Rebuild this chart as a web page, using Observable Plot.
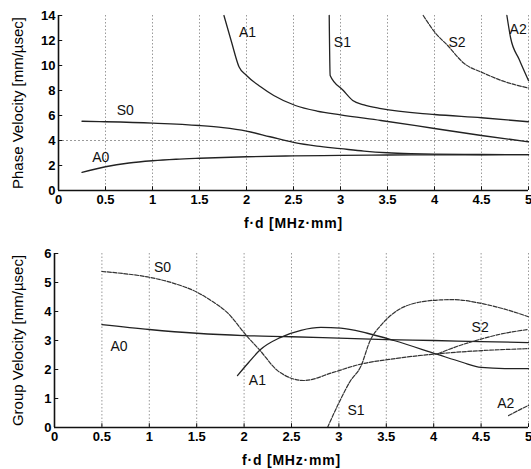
<!DOCTYPE html>
<html>
<head>
<meta charset="utf-8">
<script src="https://cdn.jsdelivr.net/npm/d3@7"></script>
<script src="https://cdn.jsdelivr.net/npm/@observablehq/plot@0.6"></script>
<style>
  body { margin: 0; background: #fff; }
  #chart { width: 531px; }
  svg { display: block; }
</style>
</head>
<body>
<div id="chart"></div>
<script>
// ---- tick values ----
const xTicks = [0, 0.5, 1, 1.5, 2, 2.5, 3, 3.5, 4, 4.5, 5];
const phaseTicks = [0, 2, 4, 6, 8, 10, 12, 14];
const groupTicks = [0, 1, 2, 3, 4, 5, 6];

// ---- phase velocity curves [f·d, v] ----
const phaseA0 = [[0.25,1.45],[0.5,1.9],[0.75,2.2],[1,2.38],[1.25,2.5],[1.5,2.58],[2,2.7],[2.5,2.77],[3,2.81],[3.5,2.84],[4,2.85],[4.5,2.86],[5,2.87]];
const phaseS0 = [[0.25,5.54],[0.5,5.5],[1,5.39],[1.5,5.2],[1.75,5.03],[2,4.75],[2.25,4.3],[2.5,3.85],[2.75,3.55],[3,3.35],[3.25,3.15],[3.5,3.02],[3.75,2.95],[4,2.91],[4.5,2.88],[5,2.87]];
const phaseA1 = [[1.76,14],[1.84,11.9],[1.92,9.9],[2.0,9.2],[2.15,8.3],[2.29,7.6],[2.52,6.8],[2.75,6.35],[3,6.05],[3.43,5.6],[4,4.96],[4.5,4.4],[5,3.9]];
const phaseS1 = [[2.88,14],[2.89,9.2],[3.03,8.0],[3.13,7.2],[3.25,6.85],[3.43,6.55],[4,6.08],[4.5,5.82],[5,5.5]];
const phaseS2 = [[3.88,14],[4.01,12.6],[4.14,11.6],[4.31,10.2],[4.52,9.4],[4.75,8.7],[5,8.2]];
const phaseA2 = [[4.77,14],[4.81,12.2],[4.9,10.5],[5,8.8]];

// ---- group velocity curves [f·d, v] ----
const groupA0 = [[0.5,3.55],[1,3.38],[1.5,3.25],[2,3.17],[2.5,3.13],[3,3.08],[3.5,3.03],[4,3.0],[4.5,2.96],[5,2.93]];
const groupS0 = [[0.5,5.38],[0.75,5.3],[1,5.18],[1.25,4.98],[1.5,4.67],[1.65,4.38],[1.82,3.97],[2.03,3.15],[2.17,2.65],[2.35,1.97],[2.63,1.62],[2.94,1.9],[3.2,2.16],[3.6,2.38],[4.07,2.55],[4.5,2.65],[5,2.72]];
const groupA1 = [[1.93,1.79],[2.05,2.25],[2.17,2.68],[2.38,3.1],[2.6,3.35],[2.81,3.45],[3.02,3.43],[3.3,3.25],[3.58,3.0],[4.04,2.52],[4.3,2.25],[4.5,2.07],[4.75,2.03],[5,2.03]];
const groupS1 = [[2.88,0],[3.0,0.85],[3.12,1.6],[3.23,2.1],[3.33,3.0],[3.45,3.55],[3.58,3.95],[3.76,4.25],[4.07,4.4],[4.2,4.41],[4.5,4.28],[4.75,4.08],[5,3.82]];
const groupS2 = [[4.05,2.55],[4.25,2.8],[4.5,3.05],[4.75,3.25],[5,3.38]];
const groupA2 = [[4.79,0.41],[4.9,0.6],[5,0.76]];

// ---- curve labels [name, f·d, v] ----
const phaseLabels = [["A1",2.01,12.6],["S1",3.02,11.85],["S2",4.24,11.85],["A2",4.89,12.9],["S0",0.71,6.4],["A0",0.45,2.65]];
const groupLabels = [["S0",1.14,5.52],["A0",0.68,2.79],["A1",2.14,1.62],["S1",3.18,0.59],["S2",4.49,3.45],["A2",4.76,0.83]];

const xLabel = "f·d [MHz·mm]";
const font = "'Liberation Sans', Arial, Helvetica, sans-serif";

function toRows(curves) {
  const rows = [];
  for (const [name, pts, dash] of curves) {
    for (const [x, y] of pts) rows.push({name, x, y, dash});
  }
  return rows;
}

function makeChart({curves, labels, yTicks, yMax, yLabel, height, marginTop, marginLeft, gridY, tickLenY, tickLenX}) {
  const rows = toRows(curves);
  const lab = labels.map(([t, x, y]) => ({t, x, y}));
  const solid = rows.filter(d => !d.dash);
  const dashed = rows.filter(d => d.dash);
  const svg = Plot.plot({
    width: 531,
    height,
    marginTop,
    marginBottom: 42,
    marginLeft,
    marginRight: 3,
    style: {fontFamily: font, background: "#fff", overflow: "visible"},
    x: {domain: [0, 5]},
    y: {domain: [0, yMax]},
    marks: [
      Plot.ruleX(xTicks.filter(d => d > 0), {stroke: "#9a9a9a", strokeDasharray: "1.5,2", strokeWidth: 1}),
      Plot.ruleY(gridY, {stroke: "#9a9a9a", strokeDasharray: "2,2", strokeWidth: 1}),
      Plot.line(solid, {x: "x", y: "y", z: "name", stroke: "#222", strokeWidth: 1.3, curve: "monotone-x"}),
      Plot.line(dashed, {x: "x", y: "y", z: "name", stroke: "#333", strokeWidth: 1.2, strokeDasharray: "4,1.5", curve: "monotone-x"}),
      Plot.text(lab, {x: "x", y: "y", text: "t", fontSize: 14, fill: "#111"}),
      Plot.ruleX(xTicks, {x: d => d, y1: 0, y2: tickLenX, stroke: "#111", strokeWidth: 1}),
      Plot.ruleY(yTicks, {y: d => d, x1: 0, x2: tickLenY, stroke: "#111", strokeWidth: 1}),
      Plot.ruleX([0], {stroke: "#111", strokeWidth: 1.6}),
      Plot.ruleY([0], {stroke: "#111", strokeWidth: 1.6}),
      Plot.axisX({ticks: xTicks, tickSize: 0, tickPadding: 4, tickFormat: d => String(d), fontSize: 13, fontWeight: "bold",
        label: xLabel, labelAnchor: "center", labelOffset: 37, labelArrow: "none"}),
      Plot.axisY({ticks: yTicks, tickSize: 0, tickPadding: 3, tickFormat: d => String(d), fontSize: 13, fontWeight: "bold",
        label: yLabel, labelAnchor: "center", labelOffset: marginLeft - 12, labelArrow: "none"})
    ]
  });
  // enlarge the axis titles
  svg.querySelectorAll("text").forEach(t => {
    const s = t.textContent;
    if (s === xLabel) {
      t.setAttribute("font-size", "14");
      t.setAttribute("font-weight", "bold");
      t.setAttribute("letter-spacing", "0.8");
      t.style.fontSize = "14px";
    } else if (s === yLabel) {
      t.setAttribute("font-size", "15");
      t.setAttribute("font-weight", "normal");
      t.style.fontSize = "15px";
      t.style.fontWeight = "normal";
    }
  });
  return svg;
}

const topChart = makeChart({
  curves: [["A0", phaseA0, false], ["S0", phaseS0, false], ["A1", phaseA1, false], ["S1", phaseS1, false], ["S2", phaseS2, true], ["A2", phaseA2, false]],
  labels: phaseLabels, yTicks: phaseTicks, yMax: 14, yLabel: "Phase Velocity [mm/µsec]",
  height: 232, marginTop: 15, marginLeft: 58, gridY: [4], tickLenY: 0.045, tickLenX: 0.3
});
const bottomChart = makeChart({
  curves: [["A0", groupA0, false], ["S0", groupS0, true], ["A1", groupA1, false], ["S1", groupS1, true], ["S2", groupS2, true], ["A2", groupA2, true]],
  labels: groupLabels, yTicks: groupTicks, yMax: 6, yLabel: "Group Velocity [mm/µsec]",
  height: 237, marginTop: 21, marginLeft: 54, gridY: [], tickLenY: 0.045, tickLenX: 0.13
});

document.getElementById("chart").append(topChart, bottomChart);
</script>
</body>
</html>
